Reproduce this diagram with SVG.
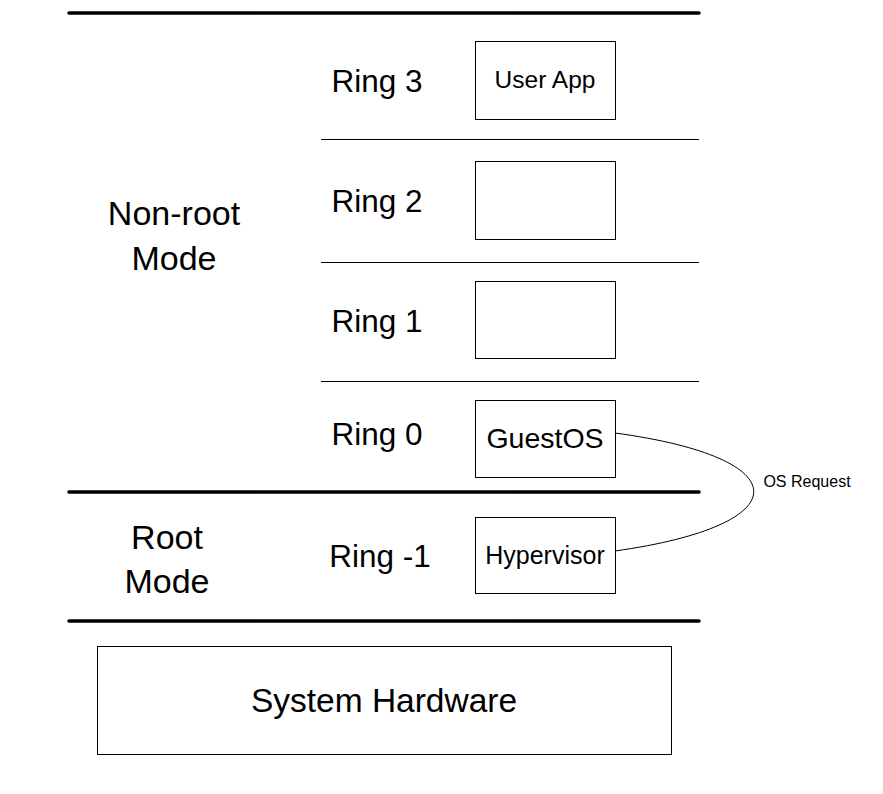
<svg xmlns="http://www.w3.org/2000/svg" width="883" height="794" viewBox="0 0 883 794">
<style>
text{font-family:"Liberation Sans",Arial,sans-serif;fill:#000;text-anchor:middle}
.thick{stroke:#000;stroke-width:3.5;stroke-linecap:round}
.thin{stroke:#000;stroke-width:1}
.box{fill:#fff;stroke:#000;stroke-width:1}
.ring{font-size:31.5px}
.mode{font-size:34px}
</style>
<rect width="883" height="794" fill="#fff"/>
<g id="layers">
<line class="thick" x1="69" y1="13" x2="699" y2="13"/>
<line class="thin" x1="321" y1="139.5" x2="699" y2="139.5"/>
<line class="thin" x1="321" y1="262.5" x2="699" y2="262.5"/>
<line class="thin" x1="321" y1="381.5" x2="699" y2="381.5"/>
<line class="thick" x1="69" y1="492" x2="699" y2="492"/>
<line class="thick" x1="69" y1="621" x2="699" y2="621"/>
</g>
<g id="mode-nonroot"><text class="mode" x="174" y="225">Non-root</text><text class="mode" x="174" y="270">Mode</text></g>
<g id="mode-root"><text class="mode" x="167" y="549">Root</text><text class="mode" x="167" y="593">Mode</text></g>
<g id="ring3-label"><text class="ring" x="377" y="92">Ring 3</text></g>
<g id="ring2-label"><text class="ring" x="377" y="212">Ring 2</text></g>
<g id="ring1-label"><text class="ring" x="377" y="332">Ring 1</text></g>
<g id="ring0-label"><text class="ring" x="377" y="445">Ring 0</text></g>
<g id="ringm1-label"><text class="ring" x="380" y="567">Ring -1</text></g>
<g id="userapp"><rect class="box" x="475.5" y="41.5" width="140" height="78"/><text x="545" y="88" font-size="24.5">User App</text></g>
<g id="ring2-box"><rect class="box" x="475.5" y="161.5" width="140" height="78"/></g>
<g id="ring1-box"><rect class="box" x="475.5" y="281.5" width="140" height="77"/></g>
<g id="guestos"><rect class="box" x="475.5" y="400.5" width="140" height="77"/><text x="545" y="448" font-size="28.5">GuestOS</text></g>
<g id="hypervisor"><rect class="box" x="475.5" y="517.5" width="140" height="76"/><text x="545" y="564" font-size="25">Hypervisor</text></g>
<g id="hardware"><rect class="box" x="97.5" y="646.5" width="574" height="108"/><text x="384" y="712" font-size="33.5">System Hardware</text></g>
<g id="connectors">
<path d="M615,433 C800,458 800,525 615,551" fill="none" stroke="#000" stroke-width="1"/>
<text x="807" y="487" font-size="16">OS Request</text>
</g>
</svg>
